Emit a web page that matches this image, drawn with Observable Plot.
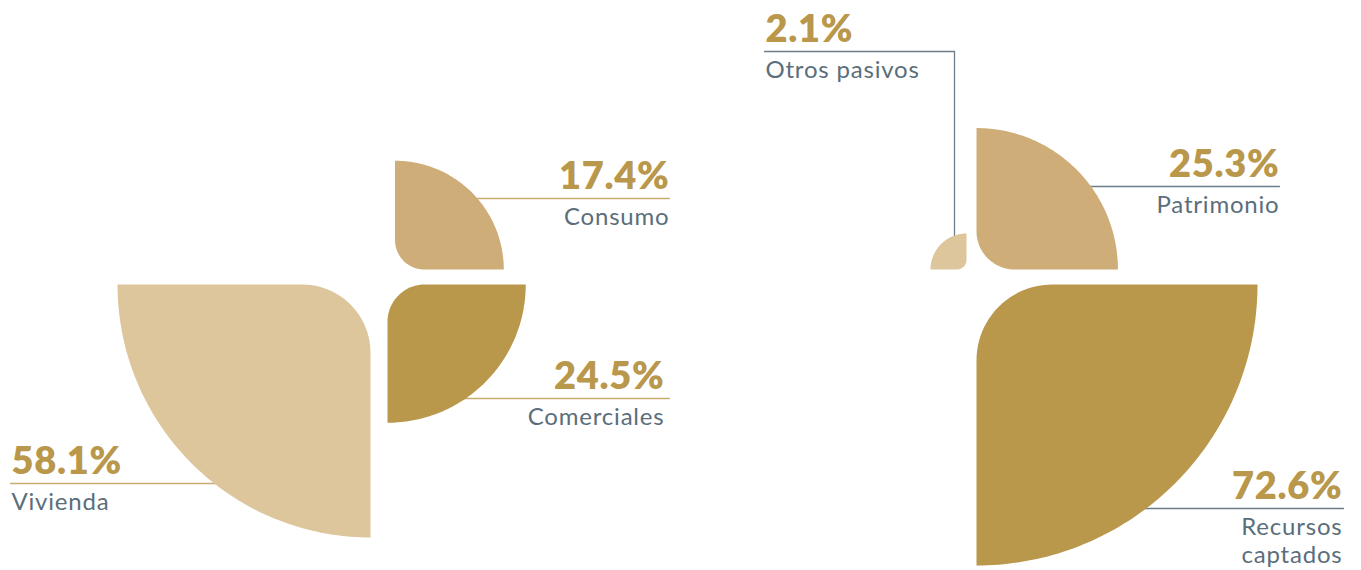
<!DOCTYPE html>
<html><head><meta charset="utf-8">
<script src="https://cdn.jsdelivr.net/npm/d3@7"></script>
<script src="https://cdn.jsdelivr.net/npm/@observablehq/plot@0.6"></script>
<style>
html,body{margin:0;padding:0;background:#fff;}
#chart{width:1361px;height:570px;}
</style></head><body><div id="chart"></div>
<script>
// ---- data ----
const leftCategories = ["Vivienda", "Comerciales", "Consumo"];
const leftValues = [58.1, 24.5, 17.4];
const leftLabels = ["Vivienda", "Comerciales", "Consumo"];
const rightCategories = ["Recursos captados", "Patrimonio", "Otros pasivos"];
const rightValues = [72.6, 25.3, 2.1];
const rightLabels = ["Recursos\ncaptados", "Patrimonio", "Otros pasivos"];

// ---- layout ----
const W = 1361, H = 570;
const panels = [
  {hub: [378.5, 276.5], gap: [8.5, 7.5], lineColor: "#c9ab70",
   radius: d3.scalePow().exponent(0.7).domain([0, d3.max(leftValues)]).range([0, 253]),
   cats: leftCategories, vals: leftValues, labels: leftLabels},
  {hub: [971, 276.5], gap: [5, 7.5], lineColor: "#6b7e8a",
   radius: d3.scalePow().exponent(0.7).domain([0, d3.max(rightValues)]).range([13.6, 281]),
   cats: rightCategories, vals: rightValues, labels: rightLabels}
];
const layout = {
  "Vivienda":          {quad: [-1, 1],  leaderY: 483, labelX: 10,   textX: 11,   anchor: "start", color: "#ddc59c"},
  "Comerciales":       {quad: [1, 1],   leaderY: 398, labelX: 669,  textX: 664,  anchor: "end",   color: "#b9974b"},
  "Consumo":           {quad: [1, -1],  leaderY: 198, labelX: 669,  textX: 669,  anchor: "end",   color: "#cfad78", shift: [7.5, 0]},
  "Recursos captados": {quad: [1, 1],   leaderY: 508, labelX: 1343, textX: 1342, anchor: "end",   color: "#b9974b"},
  "Patrimonio":        {quad: [1, -1],  leaderY: 186, labelX: 1279, textX: 1279, anchor: "end",   color: "#cfad78"},
  "Otros pasivos":     {quad: [-1, -1], leaderX: 954, leaderY: 51, labelX: 764, textX: 765, anchor: "start", color: "#ddc59c"}
};
const pctColor = "#b9974b", labelColor = "#5b6e7b";

function petal(cx, cy, sx, sy, R) {
  const rc = 0.27 * R, pts = [];
  const n = 80;
  for (let i = 0; i <= n; i++) {
    const a = (i / n) * Math.PI / 2;
    pts.push([cx + sx * R * Math.cos(a), cy + sy * R * Math.sin(a)]);
  }
  for (let i = 0; i <= 24; i++) {
    const a = (i / 24) * Math.PI / 2;
    pts.push([cx + sx * rc - sx * rc * Math.cos(a), cy + sy * rc - sy * rc * Math.sin(a)]);
  }
  return pts;
}

const petalMarks = [], leaderMarks = [], pctTexts = [], labelTexts = [];
panels.forEach(p => {
  p.cats.forEach((cat, i) => {
    const L = layout[cat];
    const v = p.vals[i];
    const R = p.radius(v);
    const [sx, sy] = L.quad;
    const sh = L.shift || [0, 0];
    const cx = p.hub[0] + sx * p.gap[0] + sh[0];
    const cy = p.hub[1] + sy * p.gap[1] + sh[1];
    petalMarks.push(Plot.line(petal(cx, cy, sx, sy, R), {x: d => d[0], y: d => d[1], fill: L.color, stroke: "none", curve: "linear"}));
    let pts;
    if (L.leaderX !== undefined) {
      const dxo = Math.abs(L.leaderX - cx);
      const ay = cy + sy * Math.sqrt(Math.max(0, R * R - dxo * dxo));
      pts = [[L.labelX, L.leaderY], [L.leaderX, L.leaderY], [L.leaderX, ay - sy * 2]];
    } else {
      const dy = Math.abs(L.leaderY - cy);
      const dx = Math.sqrt(Math.max(0, R * R - dy * dy));
      pts = [[cx + sx * (dx - 2), L.leaderY], [L.labelX, L.leaderY]];
    }
    leaderMarks.push(Plot.line(pts, {x: d => d[0], y: d => d[1], stroke: p.lineColor, strokeWidth: 1.3}));
    pctTexts.push({x: L.textX, y: L.leaderY - 10, text: v.toFixed(1) + "%", anchor: L.anchor});
    labelTexts.push({x: L.textX, y: L.leaderY + 6, text: p.labels[i], anchor: L.anchor});
  });
});

const textMarks = [];
["start", "end"].forEach(a => {
  textMarks.push(Plot.text(pctTexts.filter(d => d.anchor === a), {x: "x", y: "y", text: "text", textAnchor: a, lineAnchor: "bottom", fontSize: 38, fontWeight: 800, fill: pctColor}));
  textMarks.push(Plot.text(labelTexts.filter(d => d.anchor === a), {x: "x", y: "y", text: "text", textAnchor: a, lineAnchor: "top", fontSize: 24, lineHeight: 1.18, fill: labelColor}));
});

const chart = Plot.plot({
  width: W, height: H, margin: 0,
  x: {domain: [0, W], range: [0, W], axis: null},
  y: {domain: [0, H], range: [0, H], axis: null},
  style: {fontFamily: "Lato, 'Noto Sans', sans-serif", background: "#ffffff", overflow: "visible"},
  marks: [...leaderMarks, ...petalMarks, ...textMarks]
});
// widen letter spacing to match the reference's wider typeface
d3.select(chart).selectAll("g[font-size='38'] text").attr("letter-spacing", "0.7px").style("letter-spacing", "0.7px");
d3.select(chart).selectAll("g[font-size='24'] text").attr("letter-spacing", "0.8px").style("letter-spacing", "0.8px");
document.getElementById("chart").appendChild(chart);
</script>
</body></html>
